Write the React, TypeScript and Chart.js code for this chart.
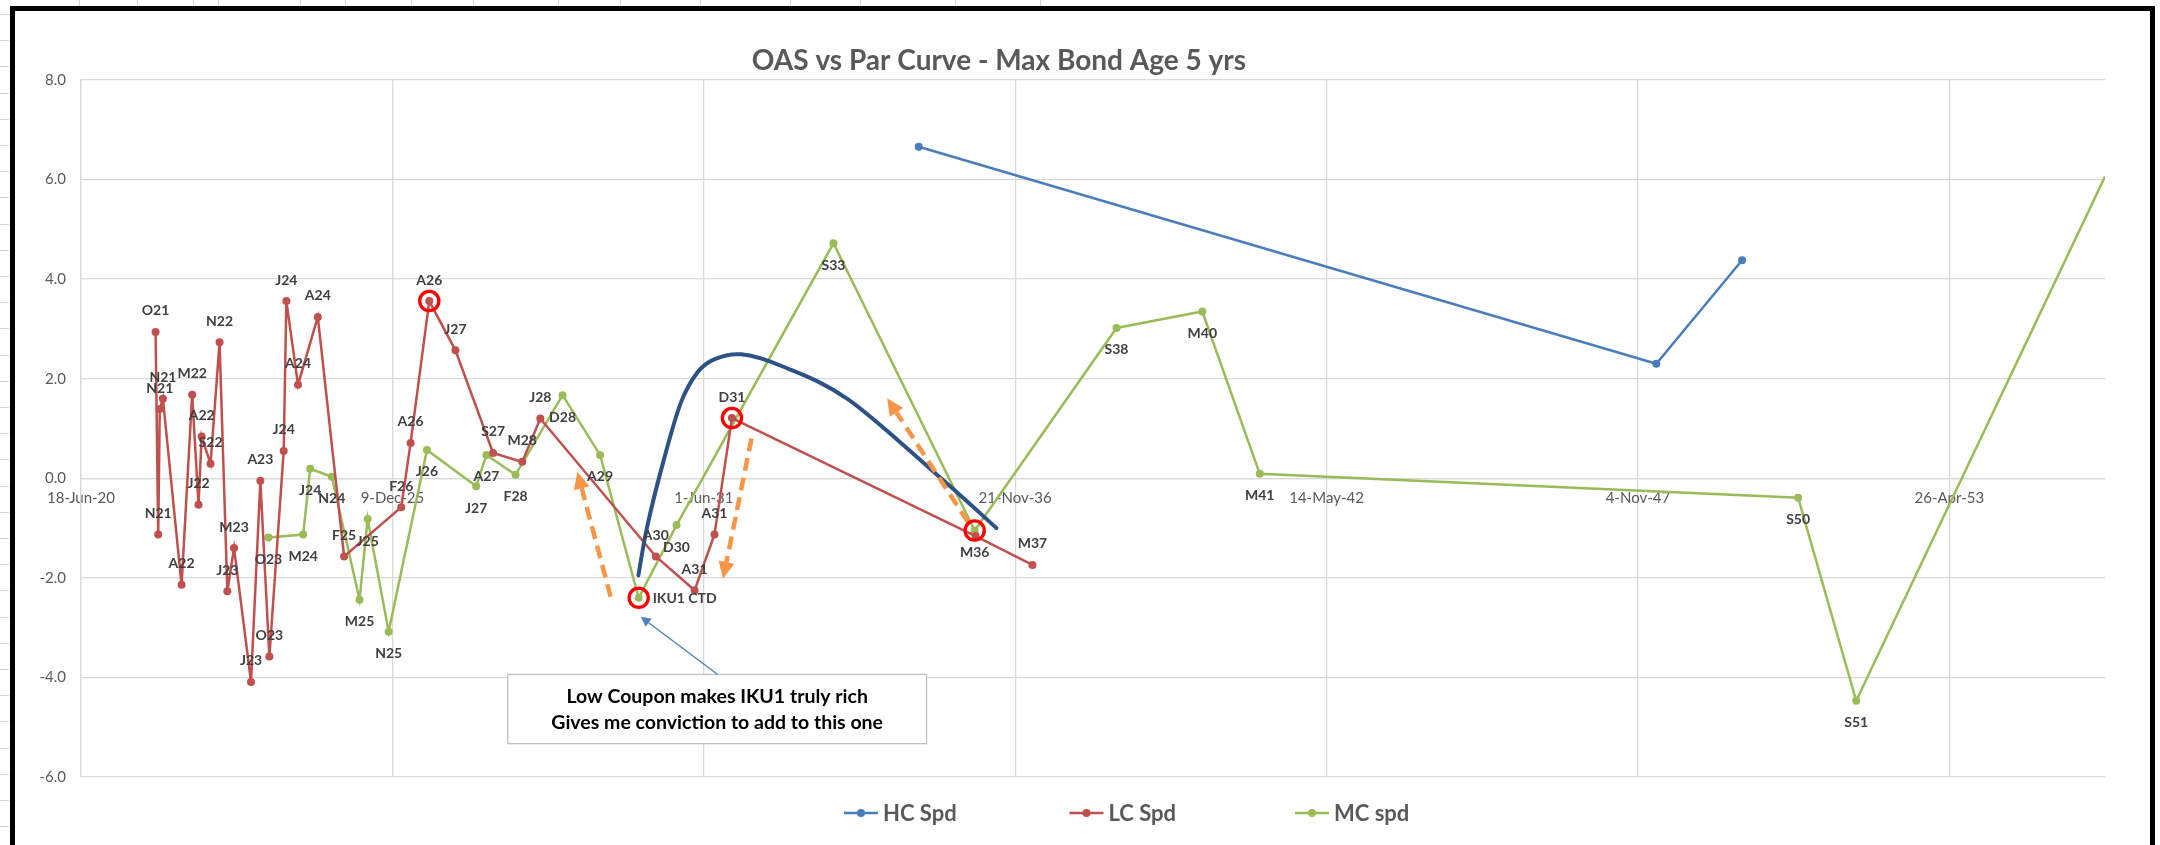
import { useEffect, useRef } from 'react';
import { Chart, registerables } from 'chart.js';

Chart.register(...registerables);

// Maturities are Excel date serials (days since 30-Dec-1899); spreads are OAS vs the par curve.
const chartTitle = 'OAS vs Par Curve - Max Bond Age 5 yrs';

const hcName = 'HC Spd';
const hcMaturities = [49381, 54118, 54669];
const hcSpreads = [6.66, 2.3, 4.38];

const lcName = 'LC Spd';
const lcMaturities = [
  44479, 44496, 44506, 44526, 44646, 44714, 44755, 44775, 44832, 44890, 44940, 44983, 45092, 45152,
  45210, 45302, 45319, 45394, 45521, 45690, 46057, 46117, 46237, 46405, 46647, 46834, 46950, 47692,
  47941, 48069, 48181, 49746, 50111,
];
const lcSpreads = [
  2.94, -1.13, 1.39, 1.6, -2.14, 1.68, -0.53, 0.84, 0.29, 2.73, -2.27, -1.4, -4.09, -0.05, -3.58, 0.55,
  3.56, 1.88, 3.24, -1.57, -0.58, 0.71, 3.56, 2.57, 0.51, 0.33, 1.2, -1.57, -2.25, -1.13, 1.21, -1.16,
  -1.74,
];
const lcLabels = [
  'O21', 'N21', 'N21', 'N21', 'A22', 'M22', 'J22', 'A22', 'S22', 'N22', 'J23', 'M23', 'J23', 'A23',
  'O23', 'J24', 'J24', 'A24', 'A24', 'F25', 'F26', 'A26', 'A26', 'J27', 'S27', 'M28', 'J28', 'A30',
  'A31', 'A31', 'D31', '', 'M37',
];

const mcName = 'MC spd';
const mcMaturities = [
  45204, 45427, 45472, 45611, 45789, 45841, 45976, 46222, 46538, 46604, 46791, 47093, 47334, 47582,
  47825, 48833, 49740, 50651, 51202, 51571, 55029, 55402, 57000,
];
const mcSpreads = [
  -1.19, -1.13, 0.19, 0.03, -2.44, -0.82, -3.08, 0.57, -0.16, 0.47, 0.07, 1.67, 0.47, -2.4, -0.94,
  4.72, -1.05, 3.02, 3.35, 0.09, -0.39, -4.47, 6.06,
];
const mcLabels = [
  'O23', 'M24', 'J24', 'N24', 'M25', 'J25', 'N25', 'J26', 'J27', 'A27', 'F28', 'D28', 'A29',
  'IKU1 CTD', 'D30', 'S33', 'M36', 'S38', 'M40', 'M41', 'S50', 'S51', '',
];

// Axis ranges (date serials on x, spread on y)
const xAxisMin = 44000;
const xAxisMax = 57000;
const xTickSerials = [44000, 46000, 48000, 50000, 52000, 54000, 56000];
const yAxisMin = -6;
const yAxisMax = 8;
const yAxisStep = 2;

// Hand-drawn "fair value" arc sketched over the curve: [maturity serial, spread]
const arcMaturities = [47580, 47638, 47745, 47853, 47960, 48067, 48239, 48496, 48925, 49505, 49880];
const arcSpreads = [-1.95, -0.95, 0.39, 1.52, 2.13, 2.39, 2.49, 2.26, 1.59, 0.05, -1.0];

// Orange trade arrows: [from serial, from spread, to serial, to spread]
const tradeArrows = [
  [47402, -2.38, 47188, 0.13],
  [48307, 0.8, 48124, -2.02],
  [49697, -0.88, 49178, 1.61],
];

// Bonds ringed in red: [dataset index, point index]
const ringedBonds = [
  [1, 22],
  [2, 13],
  [1, 30],
  [2, 16],
];

// Comment box and its pointer, in data units
const noteLines = ['Low Coupon makes IKU1 truly rich', 'Gives me conviction to add to this one'];
const noteBox = { left: 46741, right: 49431, top: -3.94, bottom: -5.33 };
const notePointer = [48089, -3.94, 47595, -2.78];

const MONTHS = ['Jan', 'Feb', 'Mar', 'Apr', 'May', 'Jun', 'Jul', 'Aug', 'Sep', 'Oct', 'Nov', 'Dec'];
function serialToLabel(serial: number): string {
  const d = new Date(Date.UTC(1899, 11, 30) + serial * 86400000);
  return `${d.getUTCDate()}-${MONTHS[d.getUTCMonth()]}-${String(d.getUTCFullYear()).slice(2)}`;
}

const COLORS = {
  hc: '#4a7ebb',
  lc: '#c0504d',
  mc: '#9bbb59',
  grid: '#d9d9d9',
  axisText: '#595959',
  pointLabel: '#404040',
  ring: '#ff0000',
  arrow: '#f79646',
  arc: '#2f5286',
  pointer: '#4f81bd',
};
const FONT = 'Lato, "Open Sans", sans-serif';

const seriesLabels: Record<number, string[]> = { 1: lcLabels, 2: mcLabels };
const seriesLabelSide: Record<number, 'above' | 'below'> = { 1: 'above', 2: 'below' };
const labelSideOverride: Record<string, 'right'> = { 'IKU1 CTD': 'right' };

function toPoints(xs: number[], ys: number[]) {
  return xs.map((x, i) => ({ x, y: ys[i] }));
}

function drawArrowHead(ctx: CanvasRenderingContext2D, x1: number, y1: number, x2: number, y2: number, len: number, half: number) {
  const a = Math.atan2(y2 - y1, x2 - x1);
  const bx = x2 - len * Math.cos(a);
  const by = y2 - len * Math.sin(a);
  ctx.beginPath();
  ctx.moveTo(x2, y2);
  ctx.lineTo(bx + half * Math.sin(a), by - half * Math.cos(a));
  ctx.lineTo(bx - half * Math.sin(a), by + half * Math.cos(a));
  ctx.closePath();
  ctx.fill();
  return [bx, by];
}

const decorPlugin = {
  id: 'oasDecor',
  beforeDraw(chart: any) {
    const { ctx, width, height } = chart;
    ctx.save();
    ctx.fillStyle = '#ffffff';
    ctx.fillRect(0, 0, width, height);
    // worksheet cell lines around the chart object
    ctx.strokeStyle = '#d4d4d4';
    ctx.lineWidth = 1;
    ctx.beginPath();
    for (let y = 14; y < height; y += 26.2) {
      ctx.moveTo(0, Math.round(y) + 0.5);
      ctx.lineTo(9, Math.round(y) + 0.5);
    }
    for (const x of [79, 137, 193, 218, 300, 345, 411, 473, 558, 620, 700, 790, 860, 955, 1040]) {
      ctx.moveTo(x + 0.5, 0);
      ctx.lineTo(x + 0.5, 6);
    }
    ctx.stroke();
    // chart object border
    ctx.strokeStyle = '#000000';
    ctx.lineWidth = 5;
    ctx.strokeRect(12.5, 8.5, 2140, height + 20);
    ctx.restore();
  },
  afterDatasetsDraw(chart: any) {
    const { ctx, scales } = chart;
    const X = (v: number) => scales.x.getPixelForValue(v);
    const Y = (v: number) => scales.y.getPixelForValue(v);
    ctx.save();

    // fair value arc (Catmull-Rom through the sketch points)
    const pts = arcMaturities.map((m, i) => [X(m), Y(arcSpreads[i])]);
    ctx.strokeStyle = COLORS.arc;
    ctx.lineWidth = 4;
    ctx.lineCap = 'round';
    ctx.beginPath();
    ctx.moveTo(pts[0][0], pts[0][1]);
    for (let i = 0; i < pts.length - 1; i++) {
      const p0 = pts[i - 1] || pts[i];
      const p1 = pts[i];
      const p2 = pts[i + 1];
      const p3 = pts[i + 2] || p2;
      ctx.bezierCurveTo(
        p1[0] + (p2[0] - p0[0]) / 6, p1[1] + (p2[1] - p0[1]) / 6,
        p2[0] - (p3[0] - p1[0]) / 6, p2[1] - (p3[1] - p1[1]) / 6,
        p2[0], p2[1],
      );
    }
    ctx.stroke();

    // dashed trade arrows
    ctx.lineCap = 'butt';
    for (const [m1, s1, m2, s2] of tradeArrows) {
      const x1 = X(m1), y1 = Y(s1), x2 = X(m2), y2 = Y(s2);
      ctx.fillStyle = COLORS.arrow;
      const [bx, by] = drawArrowHead(ctx, x1, y1, x2, y2, 17, 8);
      ctx.strokeStyle = COLORS.arrow;
      ctx.lineWidth = 4.5;
      ctx.setLineDash([13, 7]);
      ctx.beginPath();
      ctx.moveTo(x1, y1);
      ctx.lineTo(bx, by);
      ctx.stroke();
      ctx.setLineDash([]);
    }

    // red rings
    ctx.strokeStyle = COLORS.ring;
    ctx.lineWidth = 3.3;
    for (const [di, pi] of ringedBonds) {
      const el = chart.getDatasetMeta(di).data[pi];
      ctx.beginPath();
      ctx.arc(el.x, el.y, 9.6, 0, Math.PI * 2);
      ctx.stroke();
    }

    // comment box
    const bl = X(noteBox.left), br = X(noteBox.right), bt = Y(noteBox.top), bb = Y(noteBox.bottom);
    ctx.fillStyle = '#ffffff';
    ctx.fillRect(bl, bt, br - bl, bb - bt);
    ctx.strokeStyle = '#bfbfbf';
    ctx.lineWidth = 1.3;
    ctx.strokeRect(bl, bt, br - bl, bb - bt);
    ctx.fillStyle = '#000000';
    ctx.font = `bold 19.5px ${FONT}`;
    ctx.textAlign = 'center';
    ctx.textBaseline = 'middle';
    const cx = (bl + br) / 2;
    const cy = (bt + bb) / 2;
    ctx.fillText(noteLines[0], cx, cy - 12.5);
    ctx.fillText(noteLines[1], cx, cy + 13.5);

    // pointer from the box to the CTD bond
    const [pm1, ps1, pm2, ps2] = notePointer;
    const px1 = X(pm1), py1 = Y(ps1), px2 = X(pm2), py2 = Y(ps2);
    ctx.fillStyle = COLORS.pointer;
    const [hx, hy] = drawArrowHead(ctx, px1, py1, px2, py2, 10, 5);
    ctx.strokeStyle = COLORS.pointer;
    ctx.lineWidth = 1.4;
    ctx.beginPath();
    ctx.moveTo(px1, py1);
    ctx.lineTo(hx, hy);
    ctx.stroke();

    // bond labels
    ctx.font = `bold 14px ${FONT}`;
    ctx.fillStyle = COLORS.pointLabel;
    for (const key of Object.keys(seriesLabels)) {
      const di = Number(key);
      const labels = seriesLabels[di];
      const meta = chart.getDatasetMeta(di);
      labels.forEach((text, i) => {
        if (!text) return;
        const el = meta.data[i];
        const side = labelSideOverride[text] || seriesLabelSide[di];
        if (side === 'right') {
          ctx.textAlign = 'left';
          ctx.fillText(text, el.x + 14, el.y + 1);
        } else {
          ctx.textAlign = 'center';
          ctx.fillText(text, el.x, side === 'above' ? el.y - 21 : el.y + 22);
        }
      });
    }
    ctx.restore();
  },
  afterDraw(chart: any) {
    const { ctx, chartArea } = chart;
    ctx.save();
    // title
    ctx.fillStyle = COLORS.axisText;
    ctx.font = `bold 28px ${FONT}`;
    ctx.textAlign = 'center';
    ctx.textBaseline = 'middle';
    ctx.fillText(chartTitle, chartArea.left + chartArea.width * 0.4535, 61);

    // legend
    const legendY = chartArea.bottom + 36;
    let lx = chartArea.left + 763;
    ctx.font = `bold 22px ${FONT}`;
    ctx.textAlign = 'left';
    chart.data.datasets.forEach((ds: any) => {
      ctx.strokeStyle = ds.borderColor;
      ctx.fillStyle = ds.borderColor;
      ctx.lineWidth = 2.5;
      ctx.beginPath();
      ctx.moveTo(lx, legendY);
      ctx.lineTo(lx + 34, legendY);
      ctx.stroke();
      ctx.beginPath();
      ctx.arc(lx + 17, legendY, 4, 0, Math.PI * 2);
      ctx.fill();
      ctx.fillStyle = COLORS.axisText;
      ctx.fillText(ds.label, lx + 39, legendY + 1);
      lx += 225.5;
    });
    ctx.restore();
  },
};

export default function App() {
  const canvasRef = useRef<HTMLCanvasElement | null>(null);

  useEffect(() => {
    const canvas = canvasRef.current;
    if (!canvas) return;
    const series = (label: string, color: string, xs: number[], ys: number[], radii?: number[]) => ({
      label,
      data: toPoints(xs, ys),
      borderColor: color,
      backgroundColor: color,
      borderWidth: 2.5,
      pointRadius: radii || 4,
      pointHoverRadius: 4,
      pointBorderWidth: 0,
      tension: 0,
    });
    const chart = new Chart(canvas, {
      type: 'line',
      data: {
        datasets: [
          series(hcName, COLORS.hc, hcMaturities, hcSpreads),
          series(lcName, COLORS.lc, lcMaturities, lcSpreads),
          series(mcName, COLORS.mc, mcMaturities, mcSpreads, mcMaturities.map((m) => (m >= xAxisMax ? 0 : 4))),
        ],
      },
      options: {
        animation: false,
        responsive: false,
        devicePixelRatio: 1,
        layout: { padding: { left: 0, right: 55, top: 80, bottom: 68 } },
        plugins: {
          legend: { display: false },
          title: { display: false },
          tooltip: { enabled: false },
        },
        scales: {
          x: {
            type: 'linear',
            min: xAxisMin,
            max: xAxisMax,
            position: { y: 0 },
            grid: { color: COLORS.grid, lineWidth: 1.3, drawTicks: false },
            border: { display: true, color: COLORS.grid, width: 1.3 },
            ticks: {
              autoSkip: false,
              maxRotation: 0,
              padding: 11,
              color: COLORS.axisText,
              font: { family: FONT, size: 15 },
              callback: (v: any) => serialToLabel(Number(v)),
            },
            afterBuildTicks: (s: any) => {
              s.ticks = xTickSerials.map((value) => ({ value }));
            },
            afterFit: (s: any) => {
              s.height = 0;
            },
          },
          y: {
            type: 'linear',
            min: yAxisMin,
            max: yAxisMax,
            grid: { color: COLORS.grid, lineWidth: 1.3, drawTicks: false },
            border: { display: true, color: COLORS.grid, width: 1.3 },
            ticks: {
              stepSize: yAxisStep,
              padding: 15,
              color: COLORS.axisText,
              font: { family: FONT, size: 15 },
              callback: (v: any) => Number(v).toFixed(1),
            },
            afterFit: (s: any) => {
              s.width = 81;
            },
          },
        },
      } as any,
      plugins: [decorPlugin],
    });
    return () => chart.destroy();
  }, []);

  return (
    <div style={{ position: 'fixed', left: 0, top: 0, width: 2160, height: 845, background: '#ffffff' }}>
      <canvas ref={canvasRef} width={2160} height={845} style={{ display: 'block' }} />
    </div>
  );
}
